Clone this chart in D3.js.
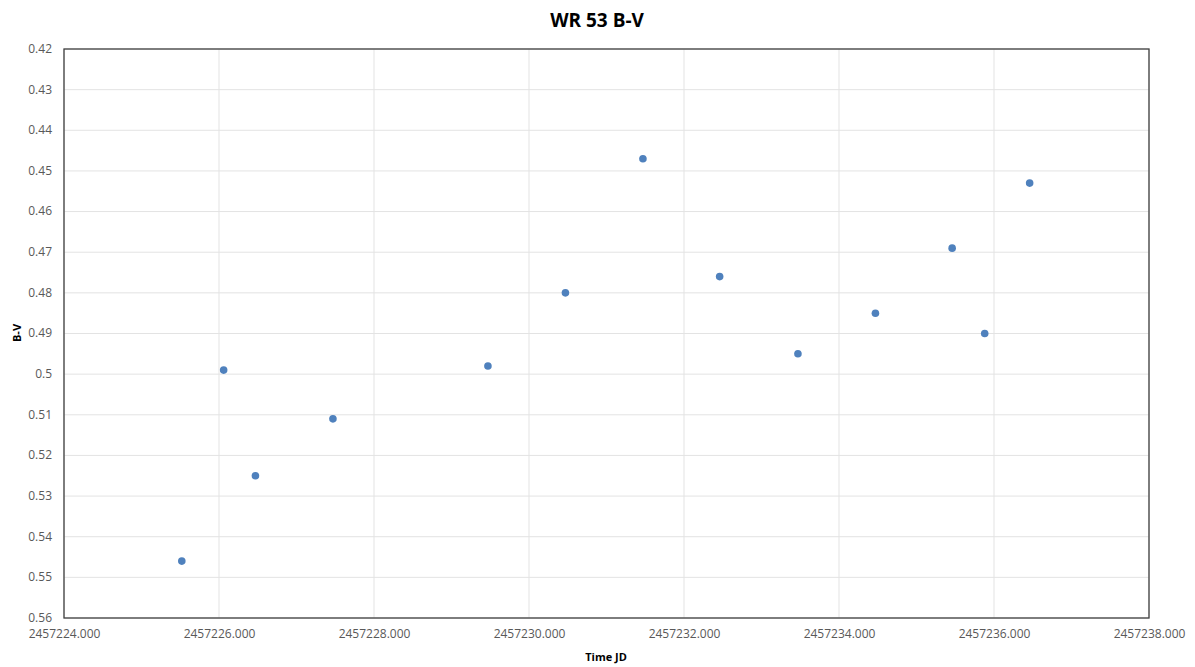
<!DOCTYPE html>
<html>
<head>
<meta charset="utf-8">
<script src="https://cdn.jsdelivr.net/npm/d3@7"></script>
<style>
  body { margin: 0; background: #fff; }
  svg { display: block; font-family: "Open Sans", "Liberation Sans", sans-serif; }
</style>
</head>
<body>
<svg id="chart" width="1195" height="667"></svg>
<script>
// observation times (JD) and B-V colour
var timeJD = [2457225.52, 2457226.06, 2457226.47, 2457227.47, 2457229.47, 2457230.47,
              2457231.47, 2457232.46, 2457233.47, 2457234.47, 2457235.46, 2457235.88, 2457236.46];
var bv = [0.546, 0.499, 0.525, 0.511, 0.498, 0.480, 0.447, 0.476, 0.495, 0.485, 0.469, 0.490, 0.453];
var xTicks = [2457224, 2457226, 2457228, 2457230, 2457232, 2457234, 2457236, 2457238];
var yTicks = [0.42, 0.43, 0.44, 0.45, 0.46, 0.47, 0.48, 0.49, 0.50, 0.51, 0.52, 0.53, 0.54, 0.55, 0.56];

var svg = d3.select("#chart"),
    plotLeft = 64, plotTop = 49, plotRight = 1149, plotBottom = 618;

var x = d3.scaleLinear().domain([2457224, 2457238]).range([plotLeft, plotRight]),
    y = d3.scaleLinear().domain([0.42, 0.56]).range([plotTop, plotBottom]);

// gridlines
svg.append("g")
   .selectAll("line")
   .data(yTicks)
   .enter().append("line")
   .attr("x1", plotLeft).attr("x2", plotRight)
   .attr("y1", function(d) { return y(d); })
   .attr("y2", function(d) { return y(d); })
   .attr("stroke", "#e3e3e3").attr("stroke-width", 1);

svg.append("g")
   .selectAll("line")
   .data(xTicks)
   .enter().append("line")
   .attr("y1", plotTop).attr("y2", plotBottom)
   .attr("x1", function(d) { return x(d); })
   .attr("x2", function(d) { return x(d); })
   .attr("stroke", "#e3e3e3").attr("stroke-width", 1);

// axes (labels only, border drawn separately)
var fmtY = function(d) { return String(+d.toFixed(2)); };

var gx = svg.append("g")
   .attr("transform", "translate(0," + plotBottom + ")")
   .call(d3.axisBottom(x).tickValues(xTicks).tickSize(0).tickPadding(11)
         .tickFormat(function(d) { return d.toFixed(3); }));
gx.select(".domain").remove();
gx.selectAll("text").attr("fill", "#595959").attr("font-size", "12px")
  .attr("font-family", "Open Sans, sans-serif");

var gy = svg.append("g")
   .attr("transform", "translate(" + plotLeft + ",0)")
   .call(d3.axisLeft(y).tickValues(yTicks).tickSize(0).tickPadding(12).tickFormat(fmtY));
gy.select(".domain").remove();
gy.selectAll("text").attr("fill", "#595959").attr("font-size", "12px")
  .attr("font-family", "Open Sans, sans-serif")
  .attr("dy", "0.28em");

// plot border
svg.append("rect")
   .attr("x", plotLeft).attr("y", plotTop)
   .attr("width", plotRight - plotLeft).attr("height", plotBottom - plotTop)
   .attr("fill", "none").attr("stroke", "#404040").attr("stroke-width", 1.3);

// points
svg.append("g")
   .selectAll("circle")
   .data(timeJD)
   .enter().append("circle")
   .attr("cx", function(d) { return x(d); })
   .attr("cy", function(d, i) { return y(bv[i]); })
   .attr("r", 3.8)
   .attr("fill", "#4f81bd");

// titles
svg.append("text")
   .attr("x", 597).attr("y", 27)
   .attr("text-anchor", "middle")
   .attr("font-size", "19px").attr("font-weight", "bold")
   .attr("fill", "#000")
   .text("WR 53 B-V");

svg.append("text")
   .attr("x", 606).attr("y", 661)
   .attr("text-anchor", "middle")
   .attr("font-size", "11px").attr("font-weight", "bold")
   .text("Time JD");

svg.append("text")
   .attr("transform", "translate(21,333) rotate(-90)")
   .attr("text-anchor", "middle")
   .attr("font-size", "11px").attr("font-weight", "bold")
   .text("B-V");
</script>
</body>
</html>
